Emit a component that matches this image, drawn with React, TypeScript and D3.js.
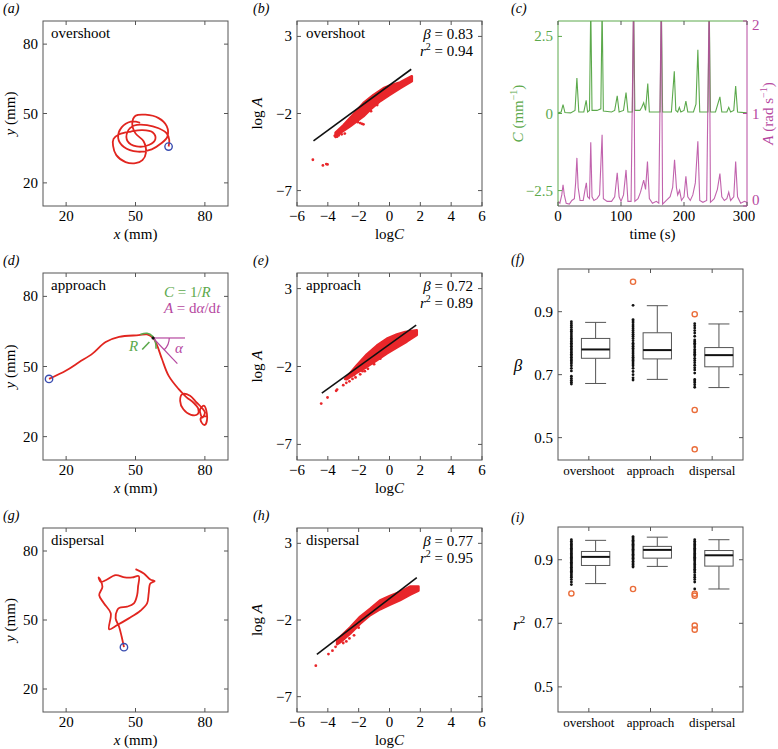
import React from 'react';
import * as d3 from 'd3';

const FONT = 'Liberation Serif, DejaVu Serif, serif';
const AX = '#555555';
const RED = '#e1251f';
const DOT_RED = '#e8262a';
const BLUE = '#3a4db0';
const GREEN = '#5ca94c';
const MAG = '#b6489f';
const ORANGE = '#ea6d3a';
const TK = 4;

// layout of the panel boxes (px)
const COL1 = [43, 228];
const COL2 = [297, 482];
const COL3 = [558, 747];
const COL3B = [558, 743];
const ROW1 = [206, 21];
const ROW2 = [460, 273];
const ROW3 = [712, 528];

// ---- trajectories, [x mm, y mm]
const overshootTrack = [
  [64.3, 35.7], [64.6, 38.5], [63.5, 41.4], [60, 43.6], [55, 45], [49.5, 44.8], [46.5, 42], [46.6, 38],
  [50.5, 35.8], [56, 36.5], [58.6, 39], [57.5, 41.8], [53, 42.8], [48, 42.2], [43, 41], [40.5, 39],
  [40.3, 36], [41.7, 32], [45.7, 29], [50, 28.5], [53, 29.8], [54.5, 33], [53.5, 38], [50, 41.4],
  [48.6, 45.7], [50, 49], [54.3, 49.5], [60, 48], [63.5, 44.5], [63.8, 40], [61, 37], [57, 34.5],
  [51, 33.5], [45, 35.5], [42.5, 39.5], [44, 44], [48, 46.5], [52, 46],
];
const approachTrack = [
  [12.6, 44.7], [20, 48.3], [25.7, 51.9], [31.4, 55.5], [37.1, 60.5], [42.9, 62.7], [51.4, 63.4],
  [55, 63.7], [57.6, 62.2], [59.3, 59.1], [61.4, 53.3], [64.3, 46.1], [68.6, 40.4], [72.1, 36.8],
  [75, 34.6], [77.1, 32], [76.9, 29.6], [74, 29.3], [70.7, 31.7], [69.3, 35.3], [70.3, 38.2],
  [73.6, 37.5], [76.4, 34.6], [78.6, 32.4], [80, 30.3], [78.9, 28.1], [77.9, 31.6], [79.7, 33.2],
  [81, 28.1], [80, 25], [78.6, 26], [78.3, 28.1], [80.7, 28.8],
];
const dispersalTrack = [
  [45, 38.2], [44, 42.8], [42.9, 47.1], [41.4, 50.7], [42.1, 54.3], [43.1, 55.3], [46.4, 55.8],
  [49.3, 57.2], [50.7, 60.8], [51.1, 64.5], [51.4, 69.1], [48.6, 68.5], [45.4, 68.5], [41.4, 69.5],
  [37.1, 67.3], [35, 66.6], [34, 68.5], [34.7, 67.6], [35.7, 64.5], [34.3, 60.8], [36.4, 57.2],
  [39.3, 52.9], [38.6, 46.0], [42.1, 47.8], [47.1, 50.7], [52.1, 54.0], [55, 57.2], [55.7, 61.6],
  [56.4, 65.9], [58.3, 66.9], [56.4, 67.6], [53.6, 70.2], [50, 72.1],
];
// curvature / angle sketch in (d), mm
const curvArc = [[52.1, 63.7], [55, 64.2], [57.4, 62.9], [58.6, 60.6], [58.9, 57.6]];
const curvRadius = [[52.9, 57.3], [56, 60.5]];
const anglePivot = [57.6, 62.2];
const angleFlat = [71.4, 62.2];
const angleDiag = [68.1, 51.2];

// ---- log C vs log A clouds: band edges, loose points, fitted line
const overshootUpper = [[-3.5, -3.25], [-2.98, -2.75], [-2.34, -2.05], [-1.69, -1.32], [-1.04, -0.8], [-0.39, -0.36], [0, -0.2], [0.69, 0.02], [1.45, 0.42]];
const overshootLower = [[1.45, 0.1], [0.69, -0.36], [0, -0.8], [-0.61, -1.2], [-1.25, -1.75], [-1.69, -2.18], [-2.12, -2.5], [-2.55, -2.82], [-3.2, -3.26], [-3.5, -3.52]];
const overshootDots = [[-4.97, -5.0], [-4.32, -5.37], [-4.02, -5.3], [-4.1, -5.28], [-3.55, -3.45], [-3.4, -3.5], [-3.3, -3.42], [-3.1, -3.35], [-2.9, -3.3],
  [-2.7, -2.5], [-2.55, -2.45], [-2.4, -2.47], [-2.23, -2.5], [-2.05, -2.56], [-1.9, -2.62], [-1.78, -2.67], [-1.69, -2.7], [-1.2, -1.85], [-0.8, -1.45]];
const overshootFit = [[-4.93, -3.78], [1.41, 0.87]];

const approachUpper = [[-2.88, -2.8], [-2.12, -1.92], [-1.47, -1.22], [-0.82, -0.66], [-0.17, -0.22], [0.48, 0.06], [1.02, 0.22], [1.77, 0.32]];
const approachLower = [[1.77, 0.02], [1.12, -0.4], [0.48, -0.78], [-0.17, -1.16], [-0.82, -1.6], [-1.47, -2.02], [-2.12, -2.4], [-2.77, -2.82]];
const approachDots = [[-4.43, -4.38], [-4.02, -3.99], [-3.46, -3.56], [-3.4, -3.48], [-3.0, -3.2], [-2.8, -3.05], [-2.6, -2.95], [-2.4, -2.8],
  [-2.2, -2.7], [-1.9, -2.5], [-1.6, -2.3], [-1.4, -2.15], [-1.0, -1.85], [-0.6, -1.5], [-2.3, -2.55], [-1.75, -2.3]];
const approachFit = [[-4.39, -3.71], [1.73, 0.66]];

const dispersalUpper = [[-3.4, -3.3], [-2.55, -2.48], [-1.9, -1.78], [-1.25, -1.27], [-0.61, -0.72], [0, -0.45], [0.69, -0.16], [1.34, 0.18], [1.88, 0.18]];
const dispersalLower = [[1.88, -0.08], [1.34, -0.35], [0.69, -0.7], [0, -1.02], [-0.61, -1.3], [-1.25, -1.68], [-1.9, -2.23], [-2.55, -2.88], [-3.2, -3.45], [-3.4, -3.58]];
const dispersalDots = [[-4.78, -4.98], [-3.96, -4.22], [-3.7, -4.0], [-3.5, -3.75], [-3.0, -3.5], [-2.8, -3.4], [-2.6, -3.2], [-2.3, -3.0], [-2.0, -2.5]];
const dispersalFit = [[-4.71, -4.24], [1.77, 0.76]];

// ---- time series (c): [t s, value]
const curvSeries = [
  [0, 0.02], [5, 0.05], [8, 0.29], [11, 0.03], [20, 0.02], [27, 0.1], [30, 1.15], [33, 0.05], [41, 0.05], [44.7, 0.43],
  [47, 0.05], [50, 0.1], [52, 3.5], [54, 0.1], [62, 0.1], [68, 0.15], [70, 3.5], [72, 0.08], [85, 0.05], [90, 0.1],
  [94, 0.57], [97, 0.05], [104, 0.1], [108, 0.68], [111, 0.05], [118, 0.05], [120, 3.5], [122, 0.1], [130, 0.1],
  [133, 0.2], [136, 0.35], [139, 0.1], [142.5, 0.97], [145, 0.05], [155, 0.05], [162, 0.05], [164, 3.5], [166, 0.05],
  [180, 0.05], [184.6, 1.37], [187, 0.1], [190, 0.05], [192.6, 0.2], [195, 0.05], [200, 0.1], [203, 0.4], [206, 0.05],
  [215, 0.05], [219, 0.3], [222, 2.07], [225, 0.05], [238, 0.05], [240, 3.5], [242, 0.05], [250, 0.05], [257, 0.54],
  [260, 0.05], [268, 0.05], [271, 0.2], [274, 0.05], [279, 0.1], [282, 0.89], [285, 0.05], [300, 0.02],
];
const angSeries = [
  [0, 0.05], [3, 0.03], [6, 0.12], [8, 0.23], [10, 0.12], [13, 0.03], [18, 0.02], [22, 0.06], [26, 0.08], [28, 0.25],
  [30, 0.52], [32, 0.2], [35, 0.06], [40, 0.06], [43, 0.18], [45, 0.25], [47, 0.1], [50, 0.08], [52, 0.69], [54, 0.1],
  [57, 0.06], [62, 0.08], [66, 0.12], [70, 0.77], [72, 0.08], [78, 0.05], [85, 0.05], [90, 0.1], [94, 0.36], [97, 0.1],
  [100, 0.05], [104, 0.12], [108, 0.39], [111, 0.05], [116, 0.05], [120, 2.3], [122, 0.05], [127, 0.08], [131, 0.15],
  [136, 0.28], [139, 0.18], [142, 0.48], [145, 0.08], [150, 0.03], [156, 0.05], [160, 0.03], [164, 2.3], [166, 0.02],
  [172, 0.06], [178, 0.1], [182, 0.2], [185, 0.5], [188, 0.2], [190, 0.12], [193, 0.17], [196, 0.06], [200, 0.1],
  [203, 0.32], [206, 0.1], [210, 0.06], [214, 0.12], [218, 0.25], [222, 0.7], [225, 0.06], [230, 0.04], [236, 0.06],
  [240, 2.3], [242, 0.04], [248, 0.08], [253, 0.18], [257, 0.35], [260, 0.1], [264, 0.06], [268, 0.08], [271, 0.15],
  [274, 0.06], [279, 0.1], [282, 0.48], [285, 0.1], [290, 0.03], [296, 0.05], [300, 0.04],
];

// ---- box plots (f) beta and (i) r^2
const categories = ['overshoot', 'approach', 'dispersal'];
const betaLow = [0.672, 0.685, 0.659];
const betaQ1 = [0.752, 0.75, 0.725];
const betaMedian = [0.78, 0.778, 0.762];
const betaQ3 = [0.815, 0.833, 0.786];
const betaHigh = [0.866, 0.919, 0.861];
const betaOutliers = [[], [0.995], [0.892, 0.588, 0.463]];
const betaDots = [
  [0.868, 0.862, 0.856, 0.85, 0.843, 0.838, 0.832, 0.826, 0.82, 0.815, 0.81, 0.805, 0.8, 0.795, 0.79, 0.785, 0.78, 0.775, 0.77, 0.765, 0.76, 0.755, 0.75, 0.745, 0.74, 0.735, 0.728, 0.72, 0.712, 0.695, 0.688, 0.682, 0.676, 0.67],
  [0.92, 0.875, 0.87, 0.865, 0.858, 0.852, 0.846, 0.84, 0.834, 0.828, 0.822, 0.815, 0.808, 0.8, 0.795, 0.79, 0.784, 0.778, 0.772, 0.766, 0.76, 0.755, 0.75, 0.745, 0.74, 0.734, 0.728, 0.72, 0.71, 0.7, 0.69, 0.683],
  [0.862, 0.855, 0.848, 0.84, 0.832, 0.822, 0.81, 0.805, 0.8, 0.795, 0.788, 0.78, 0.775, 0.77, 0.765, 0.76, 0.752, 0.745, 0.738, 0.73, 0.722, 0.715, 0.705, 0.685, 0.68, 0.675, 0.668, 0.66],
];
const r2Low = [0.825, 0.879, 0.808];
const r2Q1 = [0.882, 0.905, 0.88];
const r2Median = [0.909, 0.931, 0.914];
const r2Q3 = [0.926, 0.942, 0.929];
const r2High = [0.961, 0.971, 0.963];
const r2Outliers = [[0.794], [0.808], [0.793, 0.787, 0.693, 0.68]];
const r2Dots = [
  [0.963, 0.958, 0.953, 0.948, 0.944, 0.94, 0.936, 0.932, 0.928, 0.924, 0.92, 0.916, 0.912, 0.908, 0.904, 0.9, 0.896, 0.892, 0.888, 0.884, 0.88, 0.876, 0.872, 0.868, 0.864, 0.86, 0.855, 0.85, 0.845, 0.838, 0.83, 0.822],
  [0.973, 0.969, 0.965, 0.961, 0.957, 0.953, 0.949, 0.945, 0.941, 0.937, 0.933, 0.929, 0.925, 0.921, 0.917, 0.913, 0.909, 0.905, 0.9, 0.895, 0.89, 0.885, 0.88, 0.877],
  [0.963, 0.958, 0.953, 0.948, 0.944, 0.94, 0.936, 0.932, 0.928, 0.924, 0.92, 0.916, 0.912, 0.908, 0.904, 0.9, 0.896, 0.89, 0.885, 0.88, 0.875, 0.87, 0.865, 0.86, 0.852, 0.845, 0.838, 0.83, 0.808],
];

const fmt = (d) => String(d).replace('-', '\u2212');

function Frame({ x, y, xTicks, yTicks, xFmt = fmt, yFmt = fmt, xLabels = true }) {
  const [xa, xb] = x.range();
  const [yb, ya] = y.range();
  return (
    <g>
      <rect x={xa} y={ya} width={xb - xa} height={yb - ya} fill="none" stroke={AX} strokeWidth={1} />
      {xTicks.map((t) => (
        <g key={'x' + t}>
          <line x1={x(t)} x2={x(t)} y1={yb} y2={yb - TK} stroke={AX} />
          <line x1={x(t)} x2={x(t)} y1={ya} y2={ya + TK} stroke={AX} />
          {xLabels && <text x={x(t)} y={yb + 15} textAnchor="middle" fontSize={15}>{xFmt(t)}</text>}
        </g>
      ))}
      {yTicks.map((t) => (
        <g key={'y' + t}>
          <line x1={xa} x2={xa + TK} y1={y(t)} y2={y(t)} stroke={AX} />
          <line x1={xb} x2={xb - TK} y1={y(t)} y2={y(t)} stroke={AX} />
          <text x={xa - 5} y={y(t) + 5} textAnchor="end" fontSize={15}>{yFmt(t)}</text>
        </g>
      ))}
    </g>
  );
}

function Letter({ x, y, c }) {
  return <text x={x} y={y} fontSize={14} fontStyle="italic">({c})</text>;
}

function TrackPanel({ row, track, name, letter, sketch = false }) {
  const x = d3.scaleLinear().domain([10, 90]).range(COL1);
  const y = d3.scaleLinear().domain([10, 90]).range(row);
  const line = d3.line().x((d) => x(d[0])).y((d) => y(d[1])).curve(d3.curveCatmullRom.alpha(0.5));
  const straight = d3.line().x((d) => x(d[0])).y((d) => y(d[1]));
  let angle = null;
  if (sketch) {
    const cx = x(anglePivot[0]);
    const cy = y(anglePivot[1]);
    const r = x(anglePivot[0] + 7) - cx;
    const th = Math.atan2(y(angleDiag[1]) - cy, x(angleDiag[0]) - cx);
    angle = `M${cx + r},${cy} A${r},${r} 0 0 1 ${cx + r * Math.cos(th)},${cy + r * Math.sin(th)}`;
  }
  return (
    <g>
      <Letter x={3} y={row[1] - 8} c={letter} />
      <Frame x={x} y={y} xTicks={[20, 50, 80]} yTicks={[20, 50, 80]} />
      <text x={COL1[0] + 8} y={row[1] + 17} fontSize={15}>{name}</text>
      <path d={line(track)} fill="none" stroke={RED} strokeWidth={1.8} strokeLinejoin="round" />
      {sketch && (
        <g>
          <path d={line(curvArc)} fill="none" stroke={GREEN} strokeWidth={1.6} />
          <path d={straight(curvRadius)} fill="none" stroke={GREEN} strokeWidth={1.6} />
          <path d={straight([anglePivot, angleFlat])} fill="none" stroke={MAG} strokeWidth={1.2} />
          <path d={straight([anglePivot, angleDiag])} fill="none" stroke={MAG} strokeWidth={1.2} />
          <path d={angle} fill="none" stroke={MAG} strokeWidth={1.2} />
          <circle cx={x(anglePivot[0])} cy={y(anglePivot[1])} r={1.6} fill="#111" />
          <text x={x(47.2)} y={y(56.8)} fontSize={15} fontStyle="italic" fill={GREEN}>R</text>
          <text x={x(67.1)} y={y(55.7)} fontSize={15} fontStyle="italic" fill={MAG}>α</text>
          <text x={x(62.3)} y={y(79.9)} fontSize={15} fill={GREEN}>
            <tspan fontStyle="italic">C</tspan> = 1/<tspan fontStyle="italic">R</tspan>
          </text>
          <text x={x(62.3)} y={y(73)} fontSize={15} fill={MAG}>
            <tspan fontStyle="italic">A</tspan> = d<tspan fontStyle="italic">α</tspan>/d<tspan fontStyle="italic">t</tspan>
          </text>
        </g>
      )}
      <circle cx={x(track[0][0])} cy={y(track[0][1])} r={3.7} fill="none" stroke={BLUE} strokeWidth={1.4} />
      <text x={(COL1[0] + COL1[1]) / 2} y={row[0] + 33} textAnchor="middle" fontSize={15}>
        <tspan fontStyle="italic">x</tspan> (mm)
      </text>
      <text transform={`translate(15,${(row[0] + row[1]) / 2}) rotate(-90)`} textAnchor="middle" fontSize={15}>
        <tspan fontStyle="italic">y</tspan> (mm)
      </text>
    </g>
  );
}

function ScatterPanel({ row, letter, name, beta, r2, upper, lower, dots, fit }) {
  const x = d3.scaleLinear().domain([-6, 6]).range(COL2);
  const y = d3.scaleLinear().domain([-8, 4]).range(row);
  const ring = d3.line().x((d) => x(d[0])).y((d) => y(d[1])).curve(d3.curveLinearClosed);
  const seg = d3.line().x((d) => x(d[0])).y((d) => y(d[1]));
  return (
    <g>
      <Letter x={253} y={row[1] - 8} c={letter} />
      <Frame x={x} y={y} xTicks={[-6, -4, -2, 0, 2, 4, 6]} yTicks={[-7, -2, 3]} />
      <text x={COL2[0] + 9} y={row[1] + 17} fontSize={15}>{name}</text>
      <text x={COL2[1] - 9} y={row[1] + 18} fontSize={15} textAnchor="end">
        <tspan fontStyle="italic">β</tspan> = {beta}
      </text>
      <text x={COL2[1] - 9} y={row[1] + 35} fontSize={15} textAnchor="end">
        <tspan fontStyle="italic">r</tspan><tspan dy={-6} fontSize={10}>2</tspan><tspan dy={6}> = {r2}</tspan>
      </text>
      <path d={ring(upper.concat(lower))} fill={DOT_RED} stroke={DOT_RED} strokeWidth={2.5} strokeLinejoin="round" />
      {dots.map((d, i) => (
        <circle key={i} cx={x(d[0])} cy={y(d[1])} r={1.4} fill={DOT_RED} />
      ))}
      <path d={seg(fit)} stroke="#111" strokeWidth={1.6} fill="none" />
      <text x={(COL2[0] + COL2[1]) / 2} y={row[0] + 33} textAnchor="middle" fontSize={15}>
        log<tspan fontStyle="italic">C</tspan>
      </text>
      <text transform={`translate(262,${(row[0] + row[1]) / 2}) rotate(-90)`} textAnchor="middle" fontSize={15}>
        log <tspan fontStyle="italic">A</tspan>
      </text>
    </g>
  );
}

function SeriesPanel() {
  const x = d3.scaleLinear().domain([0, 300]).range(COL3);
  const yC = d3.scaleLinear().domain([-3, 3]).range(ROW1);
  const yA = d3.scaleLinear().domain([0, 2]).range(ROW1);
  const lineC = d3.line().x((d) => x(d[0])).y((d) => yC(d[1]));
  const lineA = d3.line().x((d) => x(d[0])).y((d) => yA(d[1]));
  const [xa, xb] = COL3;
  const [yb, ya] = ROW1;
  return (
    <g>
      <Letter x={511} y={ya - 8} c="c" />
      <defs>
        <clipPath id="clipC">
          <rect x={xa} y={ya} width={xb - xa} height={yb - ya} />
        </clipPath>
      </defs>
      <g clipPath="url(#clipC)">
        <path d={lineC(curvSeries)} fill="none" stroke={GREEN} strokeWidth={1.1} />
        <path d={lineA(angSeries)} fill="none" stroke={MAG} strokeWidth={1.1} strokeOpacity={0.85} />
      </g>
      <line x1={xa} x2={xb} y1={yb} y2={yb} stroke={AX} />
      <line x1={xa} x2={xb} y1={ya} y2={ya} stroke={GREEN} />
      <line x1={xa} x2={xa} y1={ya} y2={yb} stroke={GREEN} />
      <line x1={xb} x2={xb} y1={ya} y2={yb} stroke={MAG} />
      {[0, 100, 200, 300].map((t) => (
        <g key={t}>
          <line x1={x(t)} x2={x(t)} y1={yb} y2={yb - TK} stroke={AX} />
          <line x1={x(t)} x2={x(t)} y1={ya} y2={ya + TK} stroke={AX} />
          <text x={x(t) - (t === 300 ? 3 : 0)} y={yb + 15} textAnchor="middle" fontSize={15}>{t}</text>
        </g>
      ))}
      {[-2.5, 0, 2.5].map((t) => (
        <g key={t}>
          <line x1={xa} x2={xa + TK} y1={yC(t)} y2={yC(t)} stroke={GREEN} />
          <text x={xa - 5} y={yC(t) + 5} textAnchor="end" fontSize={15} fill={GREEN}>{fmt(t)}</text>
        </g>
      ))}
      {[0, 1, 2].map((t) => (
        <g key={t}>
          <line x1={xb} x2={xb - TK} y1={yA(t)} y2={yA(t)} stroke={MAG} />
          <text x={xb + 5} y={Math.max(ya + 9, Math.min(yb - 1, yA(t) + 5))} fontSize={15} fill={MAG}>{t}</text>
        </g>
      ))}
      <text x={(xa + xb) / 2} y={yb + 33} textAnchor="middle" fontSize={15}>time (s)</text>
      <text transform={`translate(523,${(ya + yb) / 2}) rotate(-90)`} textAnchor="middle" fontSize={15} fill={GREEN}>
        <tspan fontStyle="italic">C</tspan> (mm<tspan dy={-6} fontSize={10}>−1</tspan><tspan dy={6}>)</tspan>
      </text>
      <text transform={`translate(773,${(ya + yb) / 2}) rotate(-90)`} textAnchor="middle" fontSize={15} fill={MAG}>
        <tspan fontStyle="italic">A</tspan> (rad s<tspan dy={-6} fontSize={10}>−1</tspan><tspan dy={6}>)</tspan>
      </text>
    </g>
  );
}

function BoxPanel({ row, domain, letter, label, low, q1, med, q3, high, outliers, dots }) {
  const x = d3.scaleLinear().domain([0.5, 3.5]).range(COL3B);
  const y = d3.scaleLinear().domain(domain).range(row);
  const half = x(0.23) - x(0);
  const cap = x(0.17) - x(0);
  return (
    <g>
      <Letter x={511} y={row[1] - 5} c={letter} />
      <Frame x={x} y={y} xTicks={[1, 2, 3]} yTicks={[0.5, 0.7, 0.9]} xLabels={false} yFmt={d3.format('.1f')} />
      {label}
      {categories.map((c, i) => {
        const p = i + 1;
        const cx = x(p + 0.11);
        const dx = x(p - 0.283);
        return (
          <g key={c}>
            {dots[i].map((v, j) => (
              <circle key={j} cx={dx} cy={y(v)} r={1.4} fill="#111" />
            ))}
            {outliers[i].map((v, j) => (
              <circle key={'o' + j} cx={dx} cy={y(v)} r={2.6} fill="none" stroke={ORANGE} strokeWidth={1.4} />
            ))}
            <line x1={cx} x2={cx} y1={y(high[i])} y2={y(q3[i])} stroke={AX} />
            <line x1={cx} x2={cx} y1={y(q1[i])} y2={y(low[i])} stroke={AX} />
            <line x1={cx - cap} x2={cx + cap} y1={y(high[i])} y2={y(high[i])} stroke={AX} />
            <line x1={cx - cap} x2={cx + cap} y1={y(low[i])} y2={y(low[i])} stroke={AX} />
            <rect x={cx - half} y={y(q3[i])} width={2 * half} height={y(q1[i]) - y(q3[i])} fill="#fff" stroke={AX} />
            <line x1={cx - half} x2={cx + half} y1={y(med[i])} y2={y(med[i])} stroke="#111" strokeWidth={2} />
            <text x={x(p)} y={row[0] + 15} textAnchor="middle" fontSize={13}>{c}</text>
          </g>
        );
      })}
    </g>
  );
}

export default function App() {
  return (
    <svg width={778} height={749} style={{ position: 'absolute', left: 0, top: 0, fontFamily: FONT }}>
      <rect width={778} height={749} fill="#fff" />
      <TrackPanel row={ROW1} track={overshootTrack} name="overshoot" letter="a" />
      <ScatterPanel row={ROW1} letter="b" name="overshoot" beta="0.83" r2="0.94"
        upper={overshootUpper} lower={overshootLower} dots={overshootDots} fit={overshootFit} />
      <SeriesPanel />
      <TrackPanel row={ROW2} track={approachTrack} name="approach" letter="d" sketch />
      <ScatterPanel row={ROW2} letter="e" name="approach" beta="0.72" r2="0.89"
        upper={approachUpper} lower={approachLower} dots={approachDots} fit={approachFit} />
      <BoxPanel row={[460, 269]} domain={[0.429, 1.0355]} letter="f"
        label={<text x={518} y={371} fontSize={17} fontStyle="italic" textAnchor="middle">β</text>}
        low={betaLow} q1={betaQ1} med={betaMedian} q3={betaQ3} high={betaHigh} outliers={betaOutliers} dots={betaDots} />
      <TrackPanel row={ROW3} track={dispersalTrack} name="dispersal" letter="g" />
      <ScatterPanel row={ROW3} letter="h" name="dispersal" beta="0.77" r2="0.95"
        upper={dispersalUpper} lower={dispersalLower} dots={dispersalDots} fit={dispersalFit} />
      <BoxPanel row={[712, 527]} domain={[0.421, 1.003]} letter="i"
        label={<text x={513} y={630} fontSize={17} fontStyle="italic">r<tspan dy={-7} fontSize={11} fontStyle="normal">2</tspan></text>}
        low={r2Low} q1={r2Q1} med={r2Median} q3={r2Q3} high={r2High} outliers={r2Outliers} dots={r2Dots} />
    </svg>
  );
}
